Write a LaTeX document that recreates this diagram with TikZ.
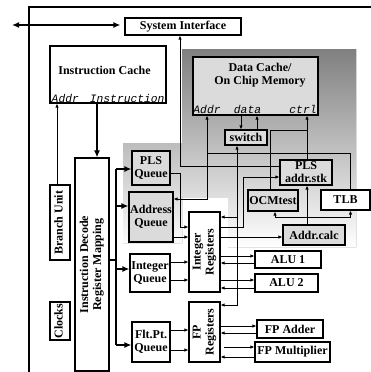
\documentclass[tikz,border=0pt]{standalone}
\usepackage{fontspec}
\setmainfont{Liberation Serif}
\setmonofont{Liberation Mono}
\usepackage{graphicx}
\usetikzlibrary{arrows.meta}
\definecolor{shade}{gray}{0.86}
\newcommand{\vtext}[1]{\rotatebox{90}{\begin{tabular}{@{}c@{}}#1\end{tabular}}}
\tikzset{
  blk/.style={draw,line width=1.2pt,fill=white,inner sep=0pt,align=center,
    font=\fontsize{12}{13}\selectfont\bfseries},
  shd/.style={blk,fill=shade},
  mono/.style={inner sep=0pt,font=\fontsize{11.3}{12}\selectfont\ttfamily\itshape},
  conn/.style={line width=0.8pt},
  arr/.style={conn,-{Latex[length=4pt,width=3.5pt]}},
  biarr/.style={conn,{Latex[length=4pt,width=3.5pt]}-{Latex[length=4pt,width=3.5pt]}},
  fat/.style={line width=2pt,-{Latex[length=7pt,width=6pt]}},
  bus/.style={line width=2pt,{Latex[length=7pt,width=6pt]}-{Latex[length=7pt,width=6pt]}}
}
\begin{document}
\begin{tikzpicture}[x=1pt,y=-1pt]
\useasboundingbox (0,0) rectangle (371,372);
\fill[shade] (123,143) -- (182,143) -- (182,49) -- (356,49) -- (356,247) -- (228,247)
  -- (228,197) -- (182,197) -- (182,243) -- (123,243) -- cycle;
\draw[line width=2.2pt] (29,372) -- (29,7) -- (371,7);

\node[blk,minimum width=116,minimum height=17] (sysif) at (183,26.5) {System Interface};
\node[blk,minimum width=116,minimum height=57] (ic) at (108,74.5) {};
\node[font=\fontsize{12}{13}\selectfont\bfseries] (ictitle) at (104.5,70) {Instruction Cache};
\node[mono] (icaddr) at (65.3,98) {Addr};
\node[mono] (icinstr) at (127.2,98) {Instruction};
\node[shd,minimum width=125,minimum height=58] (dc) at (255.5,86) {};
\node[font=\fontsize{12}{13}\selectfont\bfseries,align=center] (dctitle) at (260,75) {Data Cache/\\On Chip Memory};
\node[mono] (dcaddr) at (207,109) {Addr};
\node[mono] (dcdata) at (247.5,109) {data};
\node[mono] (dcctrl) at (303,109) {ctrl};
\node[shd,minimum width=42,minimum height=15] (switch) at (246,137.5) {switch};
\node[shd,minimum width=52,minimum height=25] (plsstk) at (306,172.5) {PLS\\addr.stk};
\node[shd,minimum width=50,minimum height=21] (ocm) at (273,200.5) {OCMtest};
\node[blk,minimum width=49,minimum height=20] (tlb) at (345.5,200) {TLB};
\node[shd,minimum width=62,minimum height=20] (acalc) at (314,235) {Addr.calc};
\node[shd,minimum width=38,minimum height=34] (plsq) at (151,168) {PLS\\Queue};
\node[shd,minimum width=44,minimum height=50] (addrq) at (151,217) {Address\\Queue};
\node[blk,minimum width=31,minimum height=80] (intreg) at (204.5,252) {\vtext{Integer\\Registers}};
\node[blk,minimum width=40,minimum height=38] (intq) at (150,273) {Integer\\Queue};
\node[blk,minimum width=31,minimum height=60] (fpreg) at (204.5,332) {\vtext{FP\\Registers}};
\node[blk,minimum width=38,minimum height=40] (fltq) at (151,342) {Flt.Pt.\\Queue};
\node[blk,minimum width=66,minimum height=17] (alu1) at (288,259.5) {ALU 1};
\node[blk,minimum width=63,minimum height=18] (alu2) at (286.5,283) {ALU 2};
\node[blk,minimum width=66,minimum height=18] (fpadd) at (290,329) {FP Adder};
\node[blk,minimum width=75,minimum height=20] (fpmul) at (292.5,352) {FP Multiplier};
\node[blk,minimum width=34,minimum height=213] (idec) at (92,264.5) {\vtext{Instruction Decode\\Register Mapping}};
\node[blk,minimum width=20,minimum height=75] (bu) at (60,222.5) {\vtext{Branch Unit}};
\node[blk,minimum width=20,minimum height=38] (clk) at (60,321) {\vtext{Clocks}};

\coordinate (ext) at (12,25);
\coordinate (spine) at (116,260);
\draw[bus] (ext) -- ([xshift=-4pt]sysif.west |- ext);
\draw[fat] ([xshift=5pt]idec.north |- ic.south) -- ([xshift=5pt]idec.north);
\draw[arr] ([xshift=-3pt]bu.north) -- ([xshift=-3pt]bu.north |- ic.south);
\draw[line width=2pt] (idec.east |- spine) -- (spine);
\draw[line width=2pt] (spine |- 0,169) -- (spine |- 0,345);
\draw[fat] (spine |- 0,169) -- (plsq.west |- 0,169);
\draw[fat] (spine |- 0,206) -- (addrq.west |- 0,206);
\draw[fat] (spine |- 0,269) -- (intq.west |- 0,269);
\draw[fat] (spine |- 0,345) -- (fltq.west |- 0,345);

\draw[arr] (plsq.east |- 0,173) -- (180,173) -- (180,227) -- (intreg.west |- 0,227);
\draw[arr] (addrq.east |- 0,237) -- (intreg.west |- 0,237);
\draw[arr] (intq.east |- 0,262) -- (intreg.west |- 0,262);
\draw[arr] (intq.east |- 0,280) -- (intreg.west |- 0,280);
\draw[arr] (fltq.east |- 0,330) -- (fpreg.west |- 0,330);
\draw[arr] (fltq.east |- 0,350) -- (fpreg.west |- 0,350);
\draw[arr] (intreg.east |- 0,256) -- (alu1.west |- 0,256);
\draw[arr] (alu1.west |- 0,263) -- (intreg.east |- 0,263);
\draw[arr] (intreg.east |- 0,280) -- (alu2.west |- 0,280);
\draw[arr] (alu2.west |- 0,288) -- (intreg.east |- 0,288);
\draw[arr] (fpreg.east |- 0,326) -- (fpadd.west |- 0,326);
\draw[arr] (fpadd.west |- 0,333) -- (fpreg.east |- 0,333);
\draw[arr] ([xshift=3pt]fpreg.east |- 0,347) -- (fpmul.west |- 0,347);
\draw[arr] (fpmul.west |- 0,357) -- (fpreg.east |- 0,357);
\draw[arr] (intreg.east |- 0,237) -- (acalc.west |- 0,237);
\draw[arr] (intreg.east |- 0,227) -- (243,227) -- (243,177) -- (plsstk.west |- 0,177);
\draw[biarr] ([xshift=-9pt]switch.south) |- (fpreg.east |- 0,305);
\draw[arr] ([xshift=-9pt]switch.south |- 0,217) -- (intreg.east |- 0,217);
\draw[arr] ([xshift=-14.5pt]dc.south) -- ([xshift=-14.5pt]dc.south |- switch.north);
\draw[arr] ([xshift=11pt]switch.north) -- ([xshift=11pt]switch.north |- dc.south);
\draw[arr] ([xshift=1pt]plsstk.north) -- ([xshift=1pt]plsstk.north |- dc.south);
\draw[conn] ([xshift=-3pt]ocm.north) |- ([xshift=1pt]plsstk.north |- 0,130);
\draw[arr] ([xshift=-7pt]acalc.north) -- ([xshift=-7pt]acalc.north |- plsstk.south);
\draw[biarr] ([xshift=2pt]ocm.south) -- ++(0,6) -| ([xshift=5pt]tlb.south);
\draw[biarr] (addrq.east |- 0,199) -| ([xshift=-48.5pt]dc.south);
\draw[conn] ([xshift=-48.5pt]dc.south |- 0,153) -| ([xshift=4.5pt]tlb.north);
\draw[arr] (plsstk.west |- 0,166) -| ([xshift=-3pt]sysif.south);
\end{tikzpicture}
\end{document}
